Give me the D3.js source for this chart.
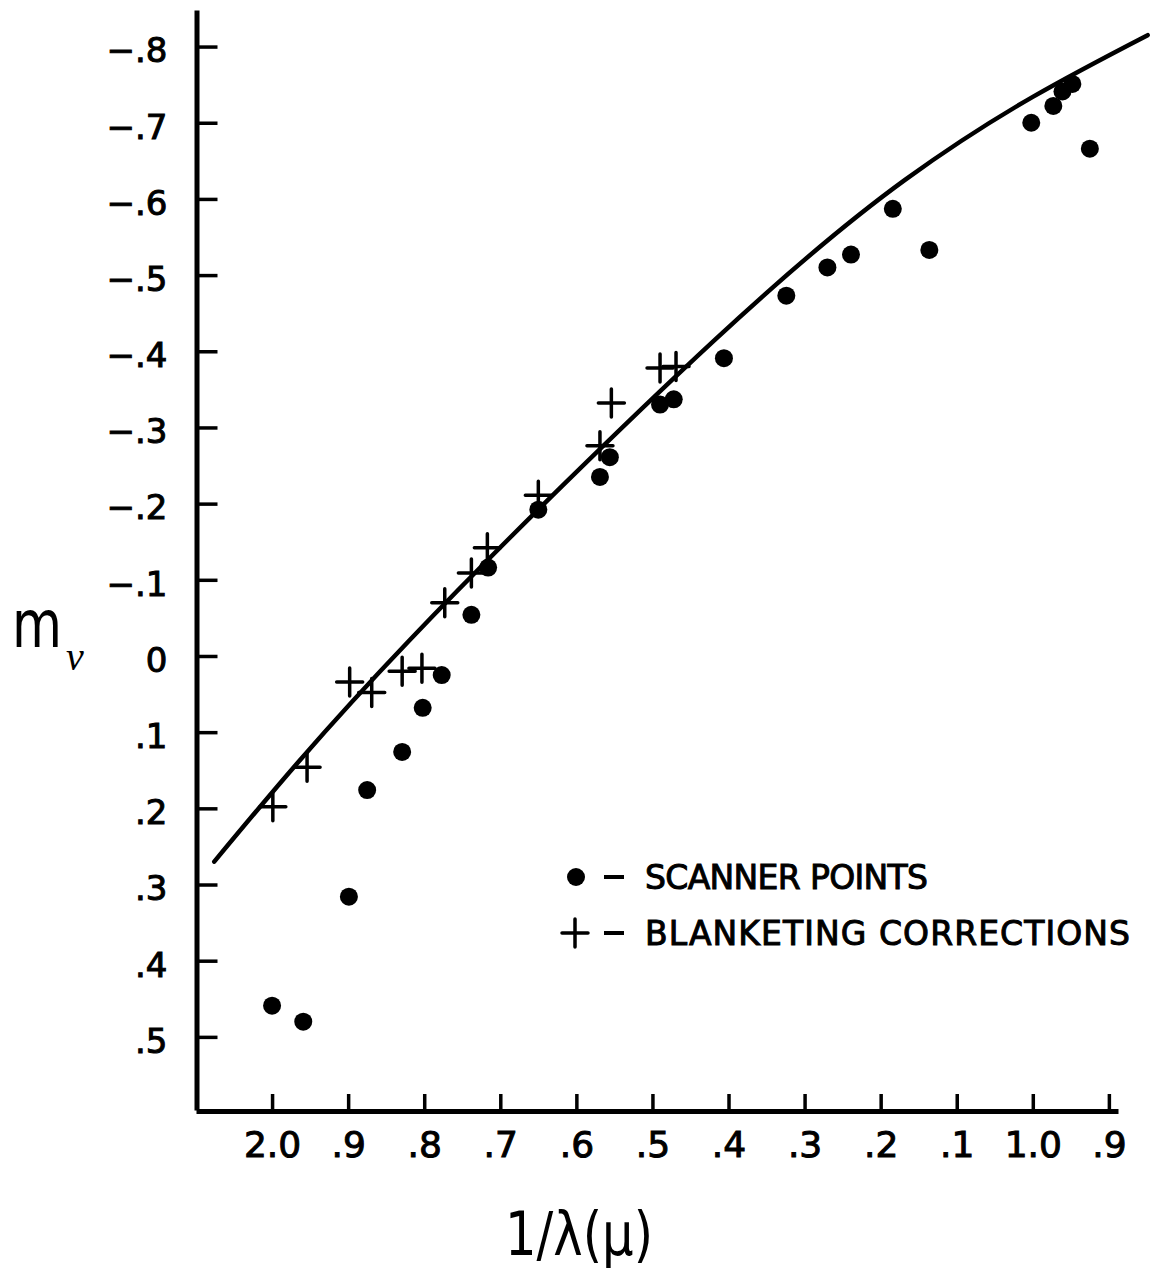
<!DOCTYPE html>
<html>
<head>
<meta charset="utf-8">
<script src="https://cdn.jsdelivr.net/npm/d3@7"></script>
<style>
  html, body { margin: 0; padding: 0; background: #fff; }
  svg { display: block; }
  text { font-family: "DejaVu Sans", sans-serif; fill: #000; }
</style>
</head>
<body>
<svg id="chart" width="1156" height="1271"></svg>
<script>
// ---- data ----
const xTickValues = [2.0, 1.9, 1.8, 1.7, 1.6, 1.5, 1.4, 1.3, 1.2, 1.1, 1.0, 0.9];
const xTickLabels = ["2.0", ".9", ".8", ".7", ".6", ".5", ".4", ".3", ".2", ".1", "1.0", ".9"];
const yTickValues = [-0.8, -0.7, -0.6, -0.5, -0.4, -0.3, -0.2, -0.1, 0, 0.1, 0.2, 0.3, 0.4, 0.5];
const yTickLabels = ["\u2212.8", "\u2212.7", "\u2212.6", "\u2212.5", "\u2212.4", "\u2212.3", "\u2212.2", "\u2212.1", "0", ".1", ".2", ".3", ".4", ".5"];

// scanner points (1/lambda, m_nu)
const scannerX = [2.000, 1.959, 1.899, 1.875, 1.829, 1.802, 1.777, 1.738, 1.716, 1.650, 1.569, 1.556, 1.490, 1.472, 1.406, 1.324, 1.270, 1.239, 1.184, 1.136, 1.002, 0.973, 0.961, 0.948, 0.925];
const scannerY = [0.459, 0.480, 0.316, 0.176, 0.126, 0.068, 0.025, -0.054, -0.116, -0.192, -0.235, -0.261, -0.330, -0.337, -0.391, -0.473, -0.510, -0.527, -0.587, -0.533, -0.700, -0.722, -0.741, -0.751, -0.666];

// blanketing corrections
const blanketX = [1.999, 1.954, 1.898, 1.869, 1.829, 1.803, 1.773, 1.738, 1.717, 1.650, 1.569, 1.554, 1.490, 1.469];
const blanketY = [0.198, 0.146, 0.034, 0.048, 0.020, 0.016, -0.070, -0.109, -0.142, -0.211, -0.276, -0.332, -0.378, -0.380];

// smooth curve (knots)
const curveX = [2.076, 1.819, 1.418, 1.168, 1.000, 0.849];
const curveY = [0.270, -0.021, -0.415, -0.625, -0.734, -0.815];

const legendLabels = ["SCANNER POINTS", "BLANKETING CORRECTIONS"];

// ---- drawing ----
const svg = d3.select("#chart");

const x = d3.scaleLinear().domain([2.1, 0.888]).range([196, 1118]);
const y = d3.scaleLinear().domain([-0.848, 0.596]).range([10, 1110]);

// curve
const line = d3.line().x(d => x(d[0])).y(d => y(d[1])).curve(d3.curveNatural);
svg.append("path")
  .datum(curveX.map((v, i) => [v, curveY[i]]))
  .attr("d", line)
  .attr("fill", "none")
  .attr("stroke", "#000")
  .attr("stroke-width", 4.5)
  .attr("stroke-linecap", "round");

// scanner dots
svg.append("g").selectAll("circle")
  .data(scannerX.map((v, i) => [v, scannerY[i]]))
  .join("circle")
  .attr("cx", d => x(d[0]))
  .attr("cy", d => y(d[1]))
  .attr("r", 9)
  .attr("fill", "#000");

// blanketing crosses
const crossPath = "M-13,0H13M0,-14V14";
svg.append("g").selectAll("path")
  .data(blanketX.map((v, i) => [v, blanketY[i]]))
  .join("path")
  .attr("transform", d => `translate(${x(d[0])},${y(d[1])})`)
  .attr("d", crossPath)
  .attr("stroke", "#000")
  .attr("stroke-width", 3.5)
  .attr("stroke-linecap", "round")
  .attr("fill", "none");

// y axis
const yAxis = d3.axisLeft(y)
  .tickValues(yTickValues)
  .tickFormat((d, i) => yTickLabels[i])
  .tickSize(-21)
  .tickSizeOuter(0)
  .tickPadding(29);
const gy = svg.append("g").attr("transform", "translate(196.5,0)").call(yAxis);
gy.select(".domain").attr("stroke-width", 5).attr("stroke", "#000");
gy.selectAll(".tick line").attr("stroke-width", 3.5).attr("stroke", "#000");
gy.selectAll(".tick text")
  .attr("font-size", 34)
  .attr("font-family", "DejaVu Sans, sans-serif")
  .attr("dy", "0.45em")
  .attr("fill", "#000")
  .attr("stroke", "#000").attr("stroke-width", 1);

// x axis
const xAxis = d3.axisBottom(x)
  .tickValues(xTickValues)
  .tickFormat((d, i) => xTickLabels[i])
  .tickSize(-17)
  .tickSizeOuter(0)
  .tickPadding(20);
const gx = svg.append("g").attr("transform", "translate(0,1111)").call(xAxis);
gx.select(".domain").attr("stroke-width", 5).attr("stroke", "#000");
gx.selectAll(".tick line").attr("stroke-width", 3.5).attr("stroke", "#000");
gx.selectAll(".tick text")
  .attr("font-size", 36)
  .attr("font-family", "DejaVu Sans, sans-serif")
  .attr("fill", "#000")
  .attr("stroke", "#000").attr("stroke-width", 1);

// axis titles (m with subscript nu as one text element)
const yTitle = svg.append("text").attr("x", 12).attr("y", 647)
  .attr("font-family", "Liberation Sans, sans-serif");
yTitle.append("tspan").attr("font-size", 66).attr("textLength", 50)
  .attr("lengthAdjust", "spacingAndGlyphs").text("m");
yTitle.append("tspan").attr("x", 66).attr("y", 670)
  .attr("font-family", "Liberation Serif, serif")
  .attr("font-size", 40).attr("font-style", "italic")
  .text("\u03BD");

svg.append("text")
  .attr("x", 505).attr("y", 1255)
  .attr("font-family", "Liberation Sans, sans-serif")
  .attr("font-size", 60)
  .attr("textLength", 148)
  .attr("lengthAdjust", "spacingAndGlyphs")
  .text("1/\u03BB(\u03BC)");

// legend
const legend = svg.append("g");
legend.append("circle").attr("cx", 576).attr("cy", 877).attr("r", 9).attr("fill", "#000");
legend.append("path").attr("transform", "translate(575,933)").attr("d", crossPath)
  .attr("stroke", "#000").attr("stroke-width", 3.5).attr("stroke-linecap", "round");
[877, 933].forEach(cy => {
  legend.append("line").attr("x1", 604).attr("x2", 624).attr("y1", cy).attr("y2", cy)
    .attr("stroke", "#000").attr("stroke-width", 4);
});
legend.append("text").attr("x", 645).attr("y", 889)
  .attr("font-size", 33).attr("textLength", 283).attr("lengthAdjust", "spacing")
  .attr("stroke", "#000").attr("stroke-width", 1)
  .text(legendLabels[0]);
legend.append("text").attr("x", 645).attr("y", 945)
  .attr("font-size", 33).attr("textLength", 485).attr("lengthAdjust", "spacing")
  .attr("stroke", "#000").attr("stroke-width", 1)
  .text(legendLabels[1]);
</script>
</body>
</html>
